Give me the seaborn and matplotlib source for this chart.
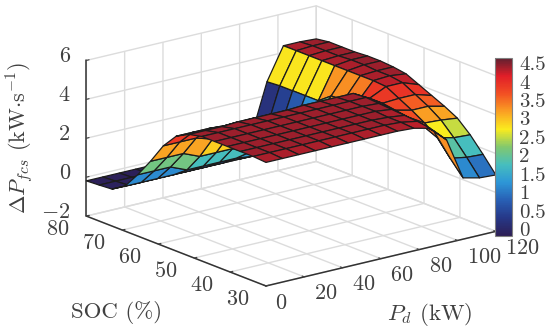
import numpy as np
import matplotlib
matplotlib.use("Agg")
import matplotlib.pyplot as plt
from matplotlib.cm import ScalarMappable
from matplotlib.colors import Normalize
from matplotlib.transforms import ScaledTranslation
import seaborn as sns

sns.set_style("white")
plt.rcParams['font.family'] = ['cmr10', 'DejaVu Sans']
plt.rcParams['mathtext.fontset'] = 'cm'
plt.rcParams['axes.unicode_minus'] = False
plt.rcParams['axes.formatter.use_mathtext'] = True

pd_kw = [0, 8.57, 17.14, 25.71, 34.29, 42.86, 51.43, 60, 68.57, 77.14, 85.71, 94.29, 102.86, 111.43, 120]
soc = [30, 33.57, 37.14, 40.71, 44.29, 47.86, 51.43, 55, 58.57, 62.14, 65.71, 69.29, 72.86, 76.43, 80]

# one row per SOC value (30 -> 80), one column per Pd value
dp = np.array([
    [4.35, 4.35, 4.35, 4.35, 4.35, 4.35, 4.35, 4.35, 4.35, 4.3, 4.1, 3.3, 1.15, 0.95, 0.9],
    [4.4, 4.4, 4.4, 4.4, 4.4, 4.4, 4.4, 4.4, 4.4, 4.35, 4.2, 3.5, 1.9, 1.75, 1.7],
    [4.4, 4.4, 4.4, 4.4, 4.4, 4.4, 4.4, 4.4, 4.4, 4.35, 4.25, 3.6, 2.7, 2.5, 2.45],
    [4.4, 4.4, 4.4, 4.4, 4.4, 4.4, 4.4, 4.4, 4.4, 4.4, 4.3, 3.7, 3.2, 3.15, 3.05],
    [4.4, 4.4, 4.4, 4.4, 4.4, 4.4, 4.4, 4.4, 4.4, 4.4, 4.35, 3.8, 3.6, 3.6, 3.4],
    [4.4, 4.4, 4.4, 4.4, 4.4, 4.4, 4.4, 4.4, 4.4, 4.4, 4.4, 3.9, 3.95, 3.95, 3.7],
    [4.25, 4.25, 4.25, 4.3, 4.3, 4.3, 4.3, 4.35, 4.35, 4.35, 4.35, 3.9, 4.3, 4.3, 4.0],
    [3.9, 3.9, 3.9, 3.85, 3.85, 3.85, 3.85, 3.75, 3.75, 3.75, 3.8, 3.4, 4.35, 4.4, 4.3],
    [3.15, 3.15, 3.15, 2.9, 2.9, 2.9, 2.85, 2.6, 2.6, 2.6, 3.2, 3.3, 4.35, 4.4, 4.4],
    [2.1, 2.1, 2.1, 1.75, 1.75, 1.75, 1.35, 1.3, 1.3, 1.3, 2.1, 3.25, 4.35, 4.45, 4.45],
    [1.15, 1.15, 1.15, 0.8, 0.8, 0.8, 0.8, 0.7, 0.7, 0.7, 1.2, 2.75, 4.35, 4.45, 4.45],
    [0.3, 0.3, 0.3, 0.3, 0.3, 0.3, 0.3, 0.3, 0.3, 0.3, 0.7, 2.75, 4.35, 4.4, 4.4],
    [-0.1, -0.1, -0.1, -0.1, -0.1, -0.1, -0.1, 0.1, 0.1, 0.1, 0.4, 2.75, 4.35, 4.4, 4.4],
    [-0.15, -0.15, -0.15, -0.15, -0.15, -0.15, -0.15, -0.05, -0.05, -0.05, 0.2, 2.75, 4.35, 4.4, 4.4],
    [-0.19, -0.19, -0.19, -0.19, -0.19, -0.19, -0.19, -0.1, -0.1, -0.1, 0.0, 2.7, 4.35, 4.35, 4.3],
])

x_ticks = [0, 20, 40, 60, 80, 100, 120]
y_ticks = [30, 40, 50, 60, 70, 80]
z_ticks = [-2, 0, 2, 4, 6]
z_labels = ['$-2$', '0', '2', '4', '6']
cbar_ticks = [0, 0.5, 1, 1.5, 2, 2.5, 3, 3.5, 4, 4.5]
cbar_labels = ['0', '0.5', '1', '1.5', '2', '2.5', '3', '3.5', '4', '4.5']

jet_like = ['#2d1e55', '#263787', '#285fb4', '#2d96d7', '#46bebe', '#82c86e',
            '#faeb1e', '#faa023', '#f25023', '#e11e28', '#5f2030']
cmap = sns.blend_palette(jet_like, as_cmap=True)
norm = Normalize(-0.19, 4.64)

fig = plt.figure(figsize=(5.5, 3.34), dpi=100)
# the 3d box is square and clips the surface, so make it bigger than the figure
ax = fig.add_axes([-17 / 550, -120 / 334, 600 / 550, 600 / 334], projection='3d')
ax.set_proj_type('ortho')
ax.view_init(elev=17.7, azim=-128)
ax.set_box_aspect((1, 1, 0.56), zoom=0.718)

X, Y = np.meshgrid(pd_kw, soc)
surf = ax.plot_surface(X, Y, dp, rstride=1, cstride=1, facecolors=cmap(norm(dp)), shade=False)
surf.set_edgecolor('#1c1c1c')
surf.set_linewidth(0.9)

ax.set_xlim(0, 120)
ax.set_ylim(30, 80)
ax.set_zlim(-2, 6)
ax.set_xticks(x_ticks)
ax.set_yticks(y_ticks)
ax.set_zticks(z_ticks)
ax.set_zticklabels(z_labels)
ax.tick_params(labelsize=16, colors='#404040')
ax.tick_params(axis='x', pad=0)
ax.tick_params(axis='y', pad=0)
ax.tick_params(axis='z', pad=0)

for axis in (ax.xaxis, ax.yaxis, ax.zaxis):
    axis.set_pane_color((1, 1, 1, 0))
    axis.pane.set_edgecolor('#dcdcdc')
    axis.line.set_color('#333333')
    axis.line.set_linewidth(1.1)
    axis._axinfo['grid']['color'] = '#dcdcdc'
    axis._axinfo['grid']['linewidth'] = 1.0
    axis._axinfo['tick']['inward_factor'] = 0.0
    axis._axinfo['tick']['outward_factor'] = 0.15
    axis._axinfo['tick']['color'] = '#333333'


def shift_labels(labels, ha, dx, dy):
    # Axis3D resets the label transform on every draw, so block that after setting ours
    for t in labels:
        t.set_ha(ha)
        t.set_transform(ax.transData + ScaledTranslation(dx / 100, dy / 100, fig.dpi_scale_trans))
        t.set_transform = lambda tr: None


shift_labels(ax.get_xticklabels(), 'left', 3, 1)
shift_labels(ax.get_yticklabels(), 'right', -8.5, 4)
shift_labels(ax.get_zticklabels(), 'right', -2, 13.5)

cax = fig.add_axes([495 / 550, 1 - 236 / 334, 17 / 550, 178 / 334])
cb = fig.colorbar(ScalarMappable(norm=norm, cmap=cmap), cax=cax)
cb.set_ticks(cbar_ticks)
cb.set_ticklabels(cbar_labels)
cb.ax.tick_params(labelsize=15, colors='#404040', length=2, direction='in', pad=5)
cb.outline.set_edgecolor('#808080')

fig.text(20 / 550, 1 - 138 / 334, r'$\Delta P_{fcs}$ (kW$\cdot$s$^{-1}$)', rotation=90, fontsize=16,
         color='#404040', ha='center', va='center')
fig.text(117 / 550, 1 - 312 / 334, 'SOC (%)', fontsize=16.5, color='#404040', ha='center', va='center')
fig.text(430 / 550, 1 - 315 / 334, r'$P_d$ (kW)', fontsize=16.5, color='#404040', ha='center', va='center')

plt.savefig('out.png', dpi=100)
